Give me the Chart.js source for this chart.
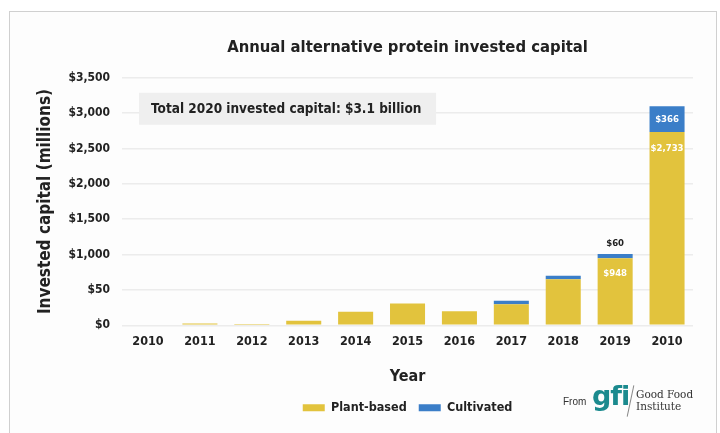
<!DOCTYPE html>
<html>
<head>
<meta charset="utf-8">
<script src="https://cdn.jsdelivr.net/npm/chart.js@4.4.0/dist/chart.umd.min.js"></script>
<style>
  body { margin: 0; background: #fff; }
  #frame {
    position: absolute; left: 9px; top: 11px; width: 706px; height: 430px;
    border-top: 1.5px solid #d0d0d0; border-left: 1.5px solid #d0d0d0; border-right: 1.5px solid #d0d0d0;
    background: #fdfdfd;
  }
  #wrap { position: absolute; left: 0; top: 0; width: 720px; height: 433px; }
  #logo { position: absolute; left: 562px; top: 384px; height: 34px; width: 140px; font-family: 'Liberation Sans', Arial, sans-serif; white-space: nowrap; }
  #logo .from { position: absolute; left: 1px; top: 12px; font-size: 10px; color: #333; }
  #logo .gfi { position: absolute; left: 30px; top: -4px; font-size: 27px; font-weight: bold; color: #1b8a8e; font-family: 'DejaVu Sans', sans-serif; letter-spacing: -1px; }
  #logo .slash { position: absolute; left: 68px; top: 1px; width: 1px; height: 32px; background: #888; transform: rotate(12deg); }
  #logo .gf { position: absolute; left: 74px; top: 4px; font-size: 10.5px; line-height: 12px; color: #333; font-family: 'DejaVu Serif', 'Liberation Serif', serif; }
</style>
</head>
<body>
<div id="frame"></div>
<div id="wrap"><canvas id="graficoCapital"></canvas></div>
<div id="logo">
  <span class="from">From</span>
  <span class="gfi">gfi</span>
  <span class="slash"></span>
  <span class="gf">Good Food<br>Institute</span>
</div>
<script>
// Datos del gráfico (millones de USD)
const years = ['2010', '2011', '2012', '2013', '2014', '2015', '2016', '2017', '2018', '2019', '2010'];
const plantBased = [10, 25, 20, 65, 190, 310, 200, 296, 650, 948, 2733];
const cultivated = [0, 0, 0, 0, 0, 0, 0, 50, 50, 60, 366];
const yTickLabels = ['$0', '$50', '$1,000', '$1,500', '$2,000', '$2,500', '$3,000', '$3,500'];

const fontFam = "'Liberation Sans Narrow', 'DejaVu Sans Condensed', 'Roboto', sans-serif";
const yellow = '#e2c33d';
const blue = '#3b7ec8';

// Caja de texto y etiquetas de valor
const extras = {
  id: 'extras',
  beforeDatasetsDraw(chart) {
    const { ctx, chartArea } = chart;
    ctx.save();
    ctx.fillStyle = '#efefef';
    ctx.fillRect(chartArea.left + 17, chartArea.top + 15, 297, 32);
    ctx.fillStyle = '#222';
    ctx.font = 'bold 13.5px ' + fontFam;
    ctx.textBaseline = 'middle';
    ctx.fillText('Total 2020 invested capital: $3.1 billion', chartArea.left + 29, chartArea.top + 32);
    ctx.restore();
  },
  afterDatasetsDraw(chart) {
    const { ctx } = chart;
    const plantBars = chart.getDatasetMeta(0).data;
    const cultBars = chart.getDatasetMeta(1).data;
    const fmt = v => '$' + v.toLocaleString('en-US');
    ctx.save();
    ctx.textAlign = 'center';
    ctx.textBaseline = 'middle';
    ctx.font = 'bold 9.5px ' + fontFam;
    // 2019
    ctx.fillStyle = '#fff';
    ctx.fillText(fmt(plantBased[9]), plantBars[9].x, plantBars[9].y + 15);
    ctx.fillStyle = '#222';
    ctx.fillText(fmt(cultivated[9]), cultBars[9].x, cultBars[9].y - 10);
    // 2020
    ctx.fillStyle = '#fff';
    ctx.fillText(fmt(plantBased[10]), plantBars[10].x, plantBars[10].y + 16);
    ctx.fillText(fmt(cultivated[10]), cultBars[10].x, (cultBars[10].y + cultBars[10].base) / 2);
    ctx.restore();
  }
};

const ctx = document.getElementById('graficoCapital').getContext('2d');
new Chart(ctx, {
  type: 'bar',
  data: {
    labels: years,
    datasets: [{
      label: 'Plant-based',
      data: plantBased,
      backgroundColor: yellow,
      borderWidth: 0
    }, {
      label: 'Cultivated',
      data: cultivated,
      backgroundColor: blue,
      borderWidth: 0
    }]
  },
  options: {
    responsive: true,
    maintainAspectRatio: false,
    animation: false,
    layout: { padding: { top: 38, left: 35, right: 27, bottom: 9 } },
    datasets: { bar: { categoryPercentage: 1, barPercentage: 0.675 } },
    scales: {
      x: {
        stacked: true,
        grid: { display: false },
        border: { display: false },
        ticks: { color: '#222', font: { family: fontFam, size: 12.5, weight: 'bold' }, padding: 1 },
        title: { display: true, text: 'Year', color: '#222', font: { family: fontFam, size: 16, weight: 'bold' }, padding: { top: 17, bottom: 3 } }
      },
      y: {
        stacked: true,
        min: 0,
        max: 3500,
        grid: { color: '#ececec', lineWidth: 1.5, drawTicks: false },
        border: { display: false },
        ticks: {
          stepSize: 500,
          padding: 12,
          color: '#222',
          font: { family: fontFam, size: 12, weight: 'bold' },
          callback: (v, i) => yTickLabels[i]
        },
        title: { display: true, text: 'Invested capital (millions)', color: '#222', font: { family: fontFam, size: 17, weight: 'bold' }, padding: { top: 0, bottom: 1 } }
      }
    },
    plugins: {
      title: {
        display: true,
        fullSize: false,
        text: 'Annual alternative protein invested capital',
        color: '#222',
        font: { family: fontFam, size: 16.5, weight: 'bold' },
        padding: { bottom: 20 }
      },
      legend: {
        position: 'bottom',
        fullSize: false,
        labels: {
          boxWidth: 22,
          boxHeight: 7,
          padding: 12,
          color: '#222',
          font: { family: fontFam, size: 12.5, weight: 'bold' }
        }
      },
      tooltip: { enabled: false }
    }
  },
  plugins: [extras]
});
</script>
</body>
</html>
